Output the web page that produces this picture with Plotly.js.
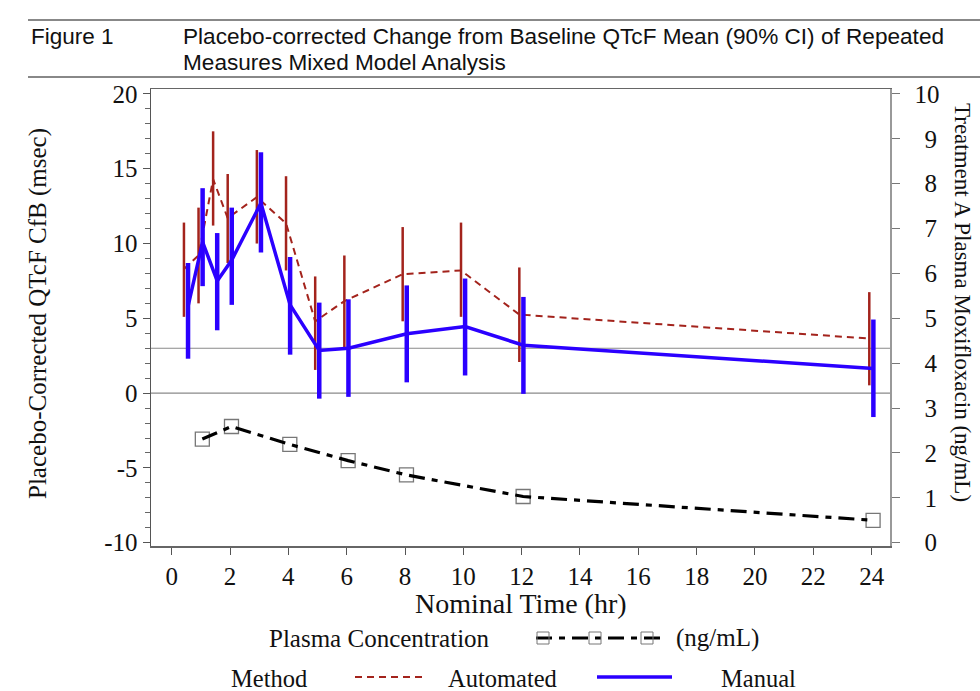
<!DOCTYPE html>
<html>
<head>
<meta charset="utf-8">
<script src="https://cdn.plot.ly/plotly-3.0.1.min.js"></script>
<style>html,body{margin:0;padding:0;background:#fff;}#chart{width:980px;height:691px;}</style>
</head>
<body>
<div id="chart"></div>
<script>
// ---- data ----
const times = [0.5, 1, 1.5, 2, 3, 4, 5, 6, 8, 10, 12, 24];
const autoMean  = [8.3, 9.2, 14.3, 11.7, 13.1, 11.35, 4.8, 6.15, 7.95, 8.2, 5.25, 3.65];
const autoLower = [5.1, 6.0, 11.2, 8.7, 10.0, 8.2, 1.55, 3.05, 4.8, 5.1, 2.08, 0.52];
const autoUpper = [11.4, 12.4, 17.5, 14.65, 16.25, 14.5, 7.8, 9.2, 11.1, 11.4, 8.4, 6.75];
const manMean  = [5.8, 10.1, 7.5, 8.9, 12.7, 5.9, 2.85, 3.0, 3.97, 4.45, 3.2, 1.65];
const manLower = [2.3, 7.15, 4.2, 5.9, 9.4, 2.57, -0.37, -0.25, 0.72, 1.18, -0.05, -1.6];
const manUpper = [8.7, 13.7, 10.7, 12.4, 16.1, 9.1, 6.05, 6.27, 7.2, 7.66, 6.43, 4.92];
const pkTimes = [1, 2, 4, 6, 8, 12, 24];
const pkConc  = [2.31, 2.59, 2.19, 1.83, 1.51, 1.03, 0.5];
const refLines = [0, 3];
const xTicks = [0, 2, 4, 6, 8, 10, 12, 14, 16, 18, 20, 22, 24];
const yTicks = [-10, -5, 0, 5, 10, 15, 20];
const y2Ticks = [0, 1, 2, 3, 4, 5, 6, 7, 8, 9, 10];

// ---- styling / layout helpers ----
const RED = '#A3231C', BLUE = '#2B00FF';
const SERIF = 'Liberation Serif, Times New Roman, serif';
const SANS = 'Liberation Sans, Arial, sans-serif';
const ML = 151, MR = 90, MT = 89, MB = 145, W = 980, H = 691;
const PW = W - ML - MR, PH = H - MT - MB;
const px = x => (x - ML) / PW;
const py = y => (H - MB - y) / PH;
const autoOffset = -0.08, manOffset = 0.06, pkOffset = 0.05;

const traces = [
  {
    x: times.map(t => t + autoOffset), y: autoMean, yaxis: 'y',
    mode: 'lines', type: 'scatter', name: 'Automated',
    line: {color: RED, width: 2, dash: '7px,5px'},
    error_y: {type: 'data', symmetric: false,
      array: autoUpper.map((u, i) => u - autoMean[i]),
      arrayminus: autoLower.map((l, i) => autoMean[i] - l),
      width: 0, thickness: 2.5, color: RED},
    showlegend: false, hoverinfo: 'x+y'
  },
  {
    x: times.map(t => t + manOffset), y: manMean, yaxis: 'y',
    mode: 'lines', type: 'scatter', name: 'Manual',
    line: {color: BLUE, width: 3.5},
    error_y: {type: 'data', symmetric: false,
      array: manUpper.map((u, i) => u - manMean[i]),
      arrayminus: manLower.map((l, i) => manMean[i] - l),
      width: 0, thickness: 4.5, color: BLUE},
    showlegend: false, hoverinfo: 'x+y'
  },
  {
    x: pkTimes.map(t => t + pkOffset), y: pkConc, yaxis: 'y2',
    mode: 'markers', type: 'scatter',
    marker: {symbol: 'square', size: 14, color: '#fff', line: {color: '#777', width: 1.3}},
    showlegend: false, hoverinfo: 'skip'
  },
  {
    x: pkTimes.map(t => t + pkOffset), y: pkConc, yaxis: 'y2',
    mode: 'lines', type: 'scatter', name: 'Plasma Concentration',
    line: {color: '#000', width: 3.2, dash: '16px,7px,6px,7px'},
    showlegend: false, hoverinfo: 'x+y'
  }
];

const shapes = refLines.map(v => ({
  type: 'line', xref: 'paper', x0: 0, x1: 1, yref: 'y', y0: v, y1: v,
  line: {color: '#8a8a8a', width: 1.2}, layer: 'below'
}));
// title rules
shapes.push({type: 'line', xref: 'paper', yref: 'paper', x0: px(28), x1: px(980), y0: py(20), y1: py(20), line: {color: '#888', width: 2}});
shapes.push({type: 'line', xref: 'paper', yref: 'paper', x0: px(28), x1: px(980), y0: py(77), y1: py(77), line: {color: '#888', width: 2}});
// legend symbols
shapes.push({type: 'line', xref: 'paper', yref: 'paper', x0: px(536), x1: px(660), y0: py(638), y1: py(638), line: {color: '#000', width: 3, dash: '16px,7px,6px,7px'}});
[543, 595, 647].forEach(cx => shapes.push({type: 'rect', xref: 'paper', yref: 'paper',
  x0: px(cx - 6), x1: px(cx + 6), y0: py(644), y1: py(632), line: {color: '#777', width: 1}, fillcolor: 'rgba(0,0,0,0)'}));
shapes.push({type: 'line', xref: 'paper', yref: 'paper', x0: px(355), x1: px(426), y0: py(677), y1: py(677), line: {color: RED, width: 2, dash: '7px,5px'}});
shapes.push({type: 'line', xref: 'paper', yref: 'paper', x0: px(597), x1: px(672), y0: py(677), y1: py(677), line: {color: BLUE, width: 3.5}});

const ann = (text, x, y, size, font, extra) => Object.assign({
  text, xref: 'paper', yref: 'paper', x: px(x), y: py(y), showarrow: false,
  xanchor: 'left', yanchor: 'middle', font: {family: font, size, color: '#111'}
}, extra || {});

const annotations = [
  ann('Figure 1', 29, 37, 22.5, SANS),
  ann('Placebo-corrected Change from Baseline QTcF Mean (90% CI) of Repeated', 181, 37, 22.6, SANS),
  ann('Measures Mixed Model Analysis', 181, 62, 22.6, SANS),
  ann('Nominal Time (hr)', 521, 603, 28, SERIF, {xanchor: 'center'}),
  ann('Placebo-Corrected QTcF CfB (msec)', 38, 314, 25, SERIF, {xanchor: 'center', textangle: -90}),
  ann('Treatment A Plasma Moxifloxacin (ng/mL)', 963, 302, 23, SERIF, {xanchor: 'center', textangle: 90}),
  ann('Plasma Concentration', 267, 638, 25, SERIF),
  ann('(ng/mL)', 674, 638, 25, SERIF),
  ann('Method', 229, 678, 24.5, SERIF),
  ann('Automated', 446, 678, 24.5, SERIF),
  ann('Manual', 719, 678, 24.5, SERIF)
];

const layout = {
  width: W, height: H,
  margin: {l: ML, r: MR, t: MT, b: MB},
  paper_bgcolor: '#fff', plot_bgcolor: '#fff',
  showlegend: false,
  xaxis: {
    range: [-0.71, 24.63], tickvals: xTicks, ticktext: xTicks.map(String),
    ticks: 'outside', ticklen: 7, tickcolor: '#555', tickwidth: 1,
    showline: true, mirror: true, linecolor: '#666', linewidth: 1.5,
    showgrid: false, zeroline: false,
    tickfont: {family: SERIF, size: 25, color: '#111'}
  },
  yaxis: {
    range: [-10.22, 20.33], tickvals: yTicks, ticktext: yTicks.map(String),
    ticks: 'outside', ticklen: 7, tickcolor: '#555', tickwidth: 1,
    minor: {dtick: 1, ticks: 'outside', ticklen: 5, tickcolor: '#666', showgrid: false},
    showline: true, linecolor: '#555', linewidth: 1.5,
    showgrid: false, zeroline: false,
    tickfont: {family: SERIF, size: 25, color: '#111'}
  },
  yaxis2: {
    overlaying: 'y', side: 'right',
    range: [-0.073, 10.11], tickvals: y2Ticks,
    ticktext: y2Ticks.map(v => v < 10 ? '\u2009\u2009\u2009\u2009' + v : '\u2009\u2009' + v),
    ticks: 'outside', ticklen: 8, tickcolor: '#777', tickwidth: 1,
    showline: true, linecolor: '#999', linewidth: 1.5,
    showgrid: false, zeroline: false,
    tickfont: {family: SERIF, size: 25, color: '#111'}
  },
  shapes, annotations
};

Plotly.newPlot('chart', traces, layout, {displayModeBar: false, staticPlot: true});
</script>
</body>
</html>
